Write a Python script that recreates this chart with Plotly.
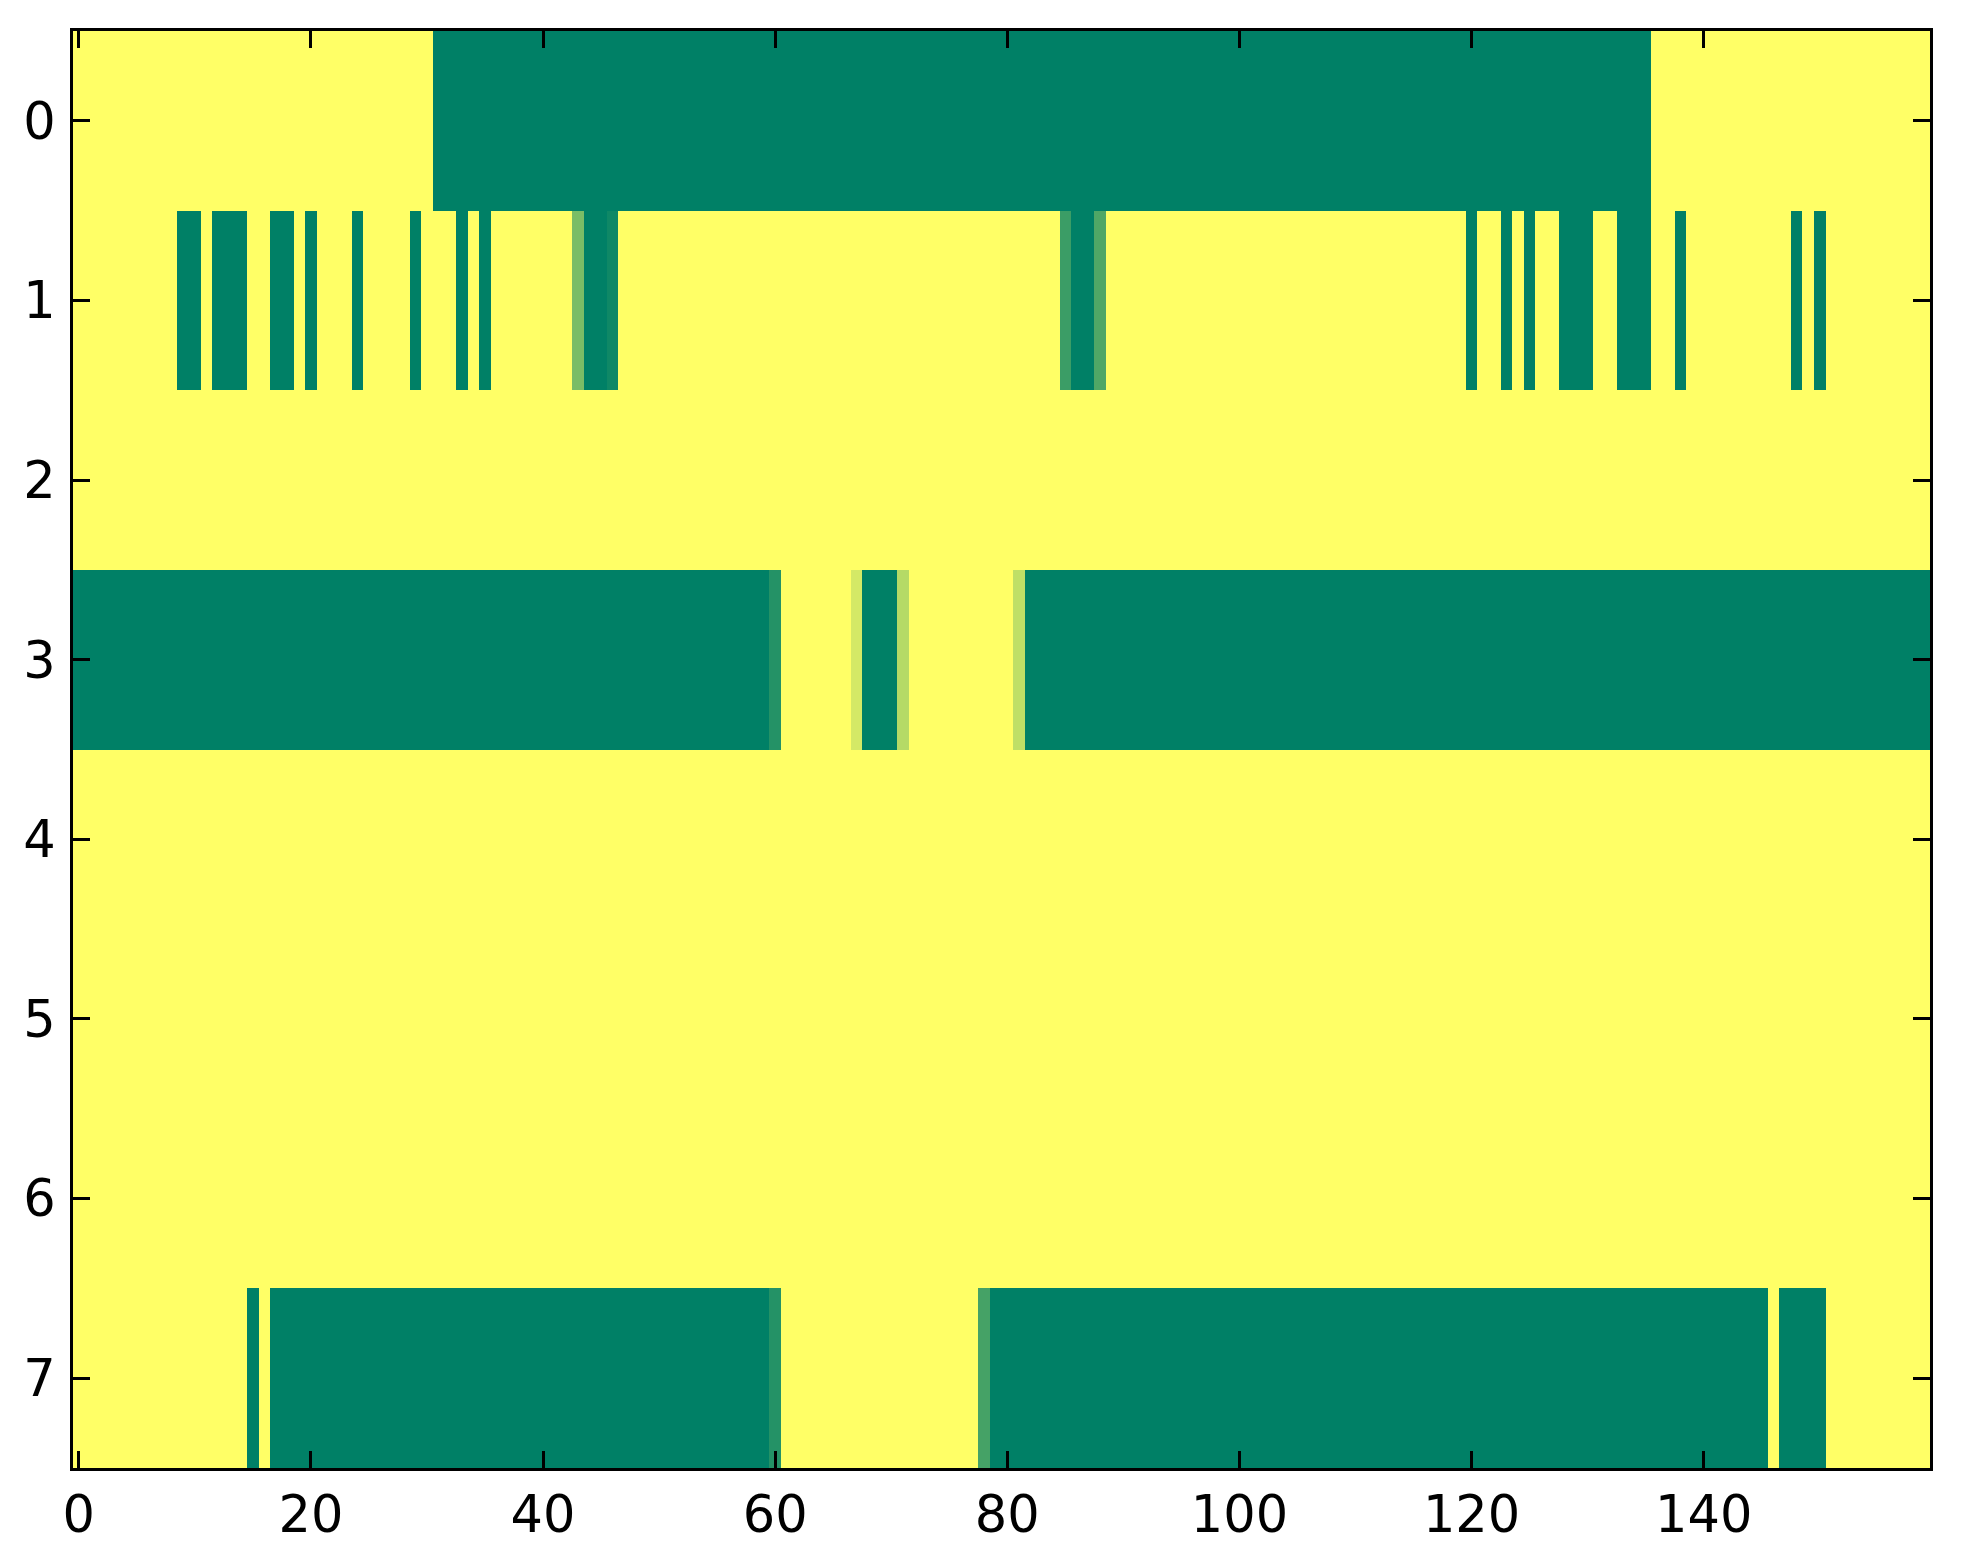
import numpy as np
import plotly.graph_objects as go

# runs of (first column, last column, value); everything else in a row is 1 (yellow)
n_cols = 160
row0 = [(31, 135, 0.0)]
row1 = [(9, 10, 0.0), (12, 14, 0.0), (17, 18, 0.0), (20, 20, 0.0), (24, 24, 0.0),
        (29, 29, 0.0), (33, 33, 0.0), (35, 35, 0.0), (43, 43, 0.48), (44, 45, 0.0),
        (46, 46, 0.06), (85, 85, 0.23), (86, 87, 0.0), (88, 88, 0.31), (120, 120, 0.0),
        (123, 123, 0.0), (125, 125, 0.0), (128, 130, 0.0), (133, 135, 0.0),
        (138, 138, 0.0), (148, 148, 0.0), (150, 150, 0.0)]
row2 = []
row3 = [(0, 59, 0.0), (60, 60, 0.14), (67, 67, 0.83), (68, 70, 0.0), (71, 71, 0.71),
        (81, 81, 0.75), (82, 159, 0.0)]
row4 = []
row5 = []
row6 = []
row7 = [(15, 15, 0.0), (17, 59, 0.0), (60, 60, 0.14), (78, 78, 0.27), (79, 145, 0.0),
        (147, 150, 0.0)]
rows = [row0, row1, row2, row3, row4, row5, row6, row7]

x_ticks = [0, 20, 40, 60, 80, 100, 120, 140]
y_ticks = [0, 1, 2, 3, 4, 5, 6, 7]

z = np.ones((len(rows), n_cols))
for i, runs in enumerate(rows):
    for a, b, v in runs:
        z[i, a:b + 1] = v

# matplotlib "summer"
summer = [[0.0, "rgb(0,128,102)"], [1.0, "rgb(255,255,102)"]]

fig = go.Figure(go.Heatmap(z=z, x=list(range(n_cols)), y=list(range(len(rows))),
                           colorscale=summer, zmin=0, zmax=1, showscale=False))

axis_style = dict(showline=True, linecolor="black", linewidth=3, mirror="ticks",
                  ticks="inside", ticklen=17, tickwidth=2.5, tickcolor="black",
                  showgrid=False, zeroline=False,
                  tickfont=dict(family="DejaVu Sans", size=51, color="black"))

fig.update_xaxes(range=[-0.5, n_cols - 0.5], tickvals=x_ticks, ticklabelstandoff=0,
                 **axis_style)
fig.update_yaxes(range=[len(rows) - 0.5, -0.5], tickvals=y_ticks, ticklabelstandoff=4,
                 **axis_style)

fig.update_layout(width=1955, height=1556, plot_bgcolor="white", paper_bgcolor="white",
                  margin=dict(l=65, r=33, t=23, b=96))

fig.write_html("out.html")
